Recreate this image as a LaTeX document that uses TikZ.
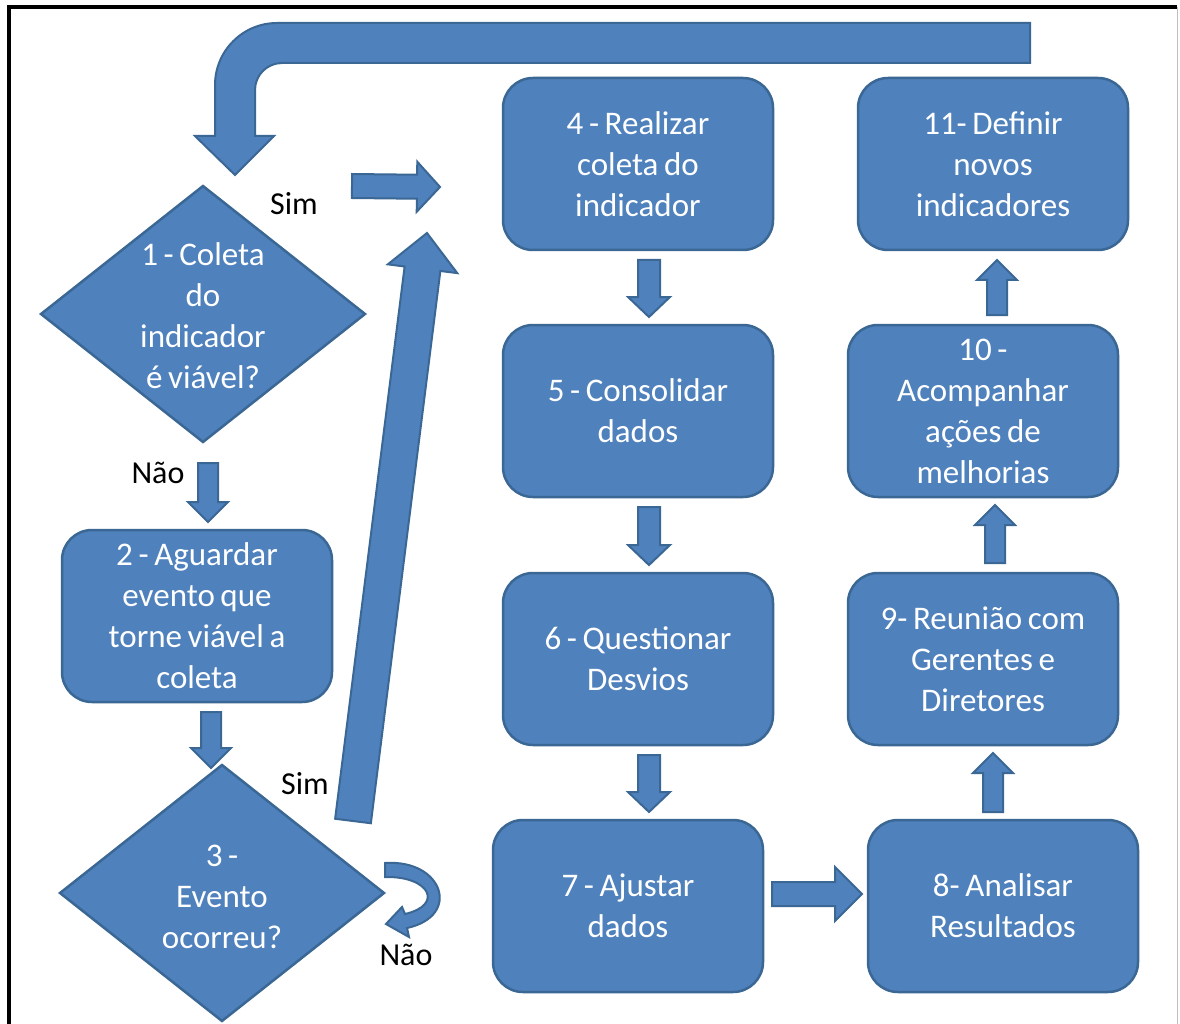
\documentclass[tikz,border=0pt]{standalone}
\usepackage{fontspec}
\setmainfont{Carlito}
\usetikzlibrary{shapes.geometric,calc}
\definecolor{boxfill}{HTML}{4F81BD}
\definecolor{boxline}{HTML}{3A6794}

% box lettering with slightly tighter word spaces
\newcommand\boxfont{\fontsize{33}{41}\selectfont
  \spaceskip=0.17em plus 0.05em minus 0.02em\relax}

\tikzset{
  shapebase/.style={fill=boxfill, draw=boxline, line width=2.5pt},
  stepbox/.style={shapebase, rounded corners=30pt, minimum width=270pt,
                  minimum height=172pt, inner sep=0pt},
  decision/.style={shapebase, diamond, minimum width=325pt,
                   minimum height=257pt, inner sep=0pt},
  boxtext/.style={text=white, align=center, font=\boxfont},
  tag/.style={text=black, font=\fontsize{32}{38}\selectfont},
  blockarrow/.style={shapebase, line width=2pt},
}

% straight block arrow: tail, tip, shaft half-width, head half-width, head length
\newcommand\barrow[5]{%
  \path let \p1=($(#2)-(#1)$) in
    \pgfextra{\pgfmathsetmacro\arrlen{veclen(\x1,\y1)}%
              \pgfmathsetmacro\arrang{atan2(\y1,\x1)}%
              \xdef\arrlen{\arrlen}\xdef\arrang{\arrang}};
  \pgfmathsetmacro\arrneck{\arrlen-#5}%
  \filldraw[blockarrow, shift={(#1)}, rotate=\arrang]
    (0pt,#3pt) -- (\arrneck pt,#3pt) -- (\arrneck pt,#4pt) -- (\arrlen pt,0pt)
    -- (\arrneck pt,-#4pt) -- (\arrneck pt,-#3pt) -- (0pt,-#3pt) -- cycle;
}

\begin{document}
\begin{tikzpicture}[x=1pt,y=-1pt]
\useasboundingbox (0,0) rectangle (1180,1024);
\fill[white] (0,0) rectangle (1180,1024);

% frame
\draw[line width=4pt] (9,1030) -- (9,7) -- (1177,7);
\draw[black!25, line width=1pt] (1177,7) -- (1177,1024);

% process steps
\node[stepbox, boxtext] (s4)  at (638,164)  {4 - Realizar\\coleta do\\indicador};
\node[stepbox, boxtext] (s11) at (993,164)  {11- Definir\\novos\\indicadores};
\node[stepbox, boxtext] (s5)  at (638,411)  {5 - Consolidar\\dados};
\node[stepbox, boxtext] (s10) at (983,411)  {10 -\\Acompanhar\\ações de\\melhorias};
\node[stepbox, boxtext] (s6)  at (638,659)  {6 - Questionar\\Desvios};
\node[stepbox, boxtext] (s9)  at (983,659)  {9- Reunião com\\Gerentes e\\Diretores};
\node[stepbox, boxtext] (s7)  at (628,906)  {7 - Ajustar\\dados};
\node[stepbox, boxtext] (s8)  at (1003,906) {8- Analisar\\Resultados};
\node[stepbox, boxtext] (s2)  at (197,616)  {2 - Aguardar\\evento que\\torne viável a\\coleta};

% decisions
\node[decision] (d1) at (203,314) {};
\node[boxtext]  (t1) at (203,316) {1 - Coleta\\do\\indicador\\é viável?};
\node[decision] (d3) at (222,893) {};
\node[boxtext]  (t3) at (222,897) {3 -\\Evento\\ocorreu?};

% arrow anchor points
\coordinate (a45t) at (649,260);  \coordinate (a45h) at (649,317);
\coordinate (a56t) at (649,507);  \coordinate (a56h) at (649,565);
\coordinate (a67t) at (649,755);  \coordinate (a67h) at (649,812);
\coordinate (a12t) at (208,463);  \coordinate (a12h) at (208,522);
\coordinate (a23t) at (211,712);  \coordinate (a23h) at (211,768);
\coordinate (a78t) at (772,894);  \coordinate (a78h) at (862,894);
\coordinate (a89t) at (993,812);  \coordinate (a89h) at (993,753);
\coordinate (a910t) at (995,563); \coordinate (a910h) at (995,505);
\coordinate (a1011t) at (997,315);\coordinate (a1011h) at (997,260);
\coordinate (asimt) at (352,186); \coordinate (asimh) at (440,187);
\coordinate (adiagt) at (353,821);\coordinate (adiagh) at (427,233);

\barrow{a45t}{a45h}{11}{21}{20}
\barrow{a56t}{a56h}{11}{21}{20}
\barrow{a67t}{a67h}{11}{21}{20}
\barrow{a12t}{a12h}{10}{20}{20}
\barrow{a23t}{a23h}{10}{20}{20}
\barrow{a78t}{a78h}{12}{27}{27}
\barrow{a89t}{a89h}{10}{20}{20}
\barrow{a910t}{a910h}{10}{20}{20}
\barrow{a1011t}{a1011h}{10}{20}{20}
\barrow{asimt}{asimh}{12}{25}{23}
\barrow{adiagt}{adiagh}{18}{35}{36}

% return arrow along the top, back to decision 1
\filldraw[blockarrow] (1030,23) -- (277,23)
  .. controls (242.8,23) and (215,50.8) .. (215,85)
  -- (215,136) -- (195,136) -- (235,175) -- (274,136) -- (255,136)
  -- (255,90) .. controls (255,75.1) and (267.1,63) .. (282,63)
  -- (1030,63) -- cycle;

% loop-back arrow of decision 3
\filldraw[blockarrow] (385,863)
  .. controls (443,859) and (462,916) .. (407,928)
  -- (409,937) -- (386,924) -- (402,907) -- (405,914)
  .. controls (444,905) and (430,876) .. (385,877) -- cycle;

% branch labels
\node[tag] (ysim1) at (294,204) {Sim};
\node[tag] (nnao1) at (158,473) {Não};
\node[tag] (ysim3) at (305,784) {Sim};
\node[tag] (nnao3) at (406,955) {Não};
\end{tikzpicture}
\end{document}
